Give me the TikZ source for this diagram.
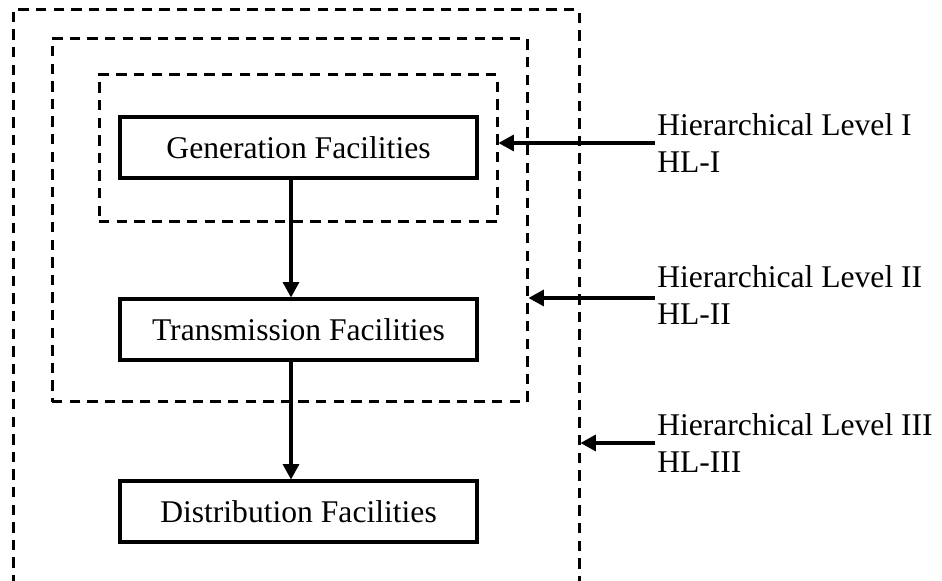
\documentclass[tikz,border=0pt]{standalone}
\usepackage{fontspec}
\setmainfont{Liberation Serif}
\usetikzlibrary{arrows.meta}
\begin{document}
\begin{tikzpicture}[x=0.75pt,y=0.75pt,
  textfont/.style={font=\fontsize{23.7pt}{27.75pt}\selectfont},
  facility/.style={draw, line width=2.3pt, minimum width=267.75pt,
    minimum height=45.75pt, inner sep=0pt, textfont},
  levelframe/.style={draw, line width=2.25pt, dash pattern=on 7.8pt off 5.4pt,
    inner sep=0pt},
  flow/.style={line width=2.3pt, -{Triangle[length=11.5pt,width=12pt]}},
  levellabel/.style={anchor=north west, inner sep=0pt, align=left, textfont}]
\useasboundingbox (0,0) rectangle (942,581);

% nested hierarchical level frames
\node[levelframe, minimum width=424.5pt, minimum height=443.25pt] (hl3) at (296,275.5) {};
\node[levelframe, minimum width=356.25pt, minimum height=272.25pt] (hl2) at (289.5,360.5) {};
\node[levelframe, minimum width=298.5pt, minimum height=110.25pt] (hl1) at (298,432.5) {};

% facility boxes
\node[facility] (gen)   at (298.5,433.5) {Generation Facilities};
\node[facility] (trans) at (298.5,251.5) {Transmission Facilities};
\node[facility] (dist)  at (298.5,69.5)  {Distribution Facilities};

% vertical power flow
\coordinate (ax) at (291,0);
\draw[flow] (gen.south -| ax) -- (trans.north -| ax);
\draw[flow] (trans.south -| ax) -- (dist.north -| ax);

% level labels and pointers
\node[levellabel] (lab1) at (657,467.6) {Hierarchical Level I\\HL-I};
\node[levellabel] (lab2) at (657,315.6) {Hierarchical Level II\\HL-II};
\node[levellabel] (lab3) at (657,167.6) {Hierarchical Level III\\HL-III};

\coordinate (s1) at (655,438);
\coordinate (s2) at (655,283);
\coordinate (s3) at (655,138);
\draw[flow] (s1) -- (hl1.east |- s1);
\draw[flow] (s2) -- (hl2.east |- s2);
\draw[flow] (s3) -- (hl3.east |- s3);
\end{tikzpicture}
\end{document}
